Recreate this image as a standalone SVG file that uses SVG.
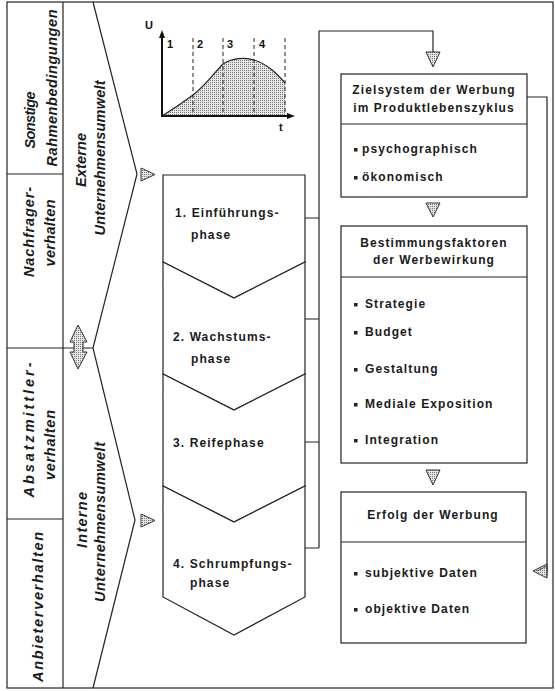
<svg xmlns="http://www.w3.org/2000/svg" width="555" height="691" viewBox="0 0 555 691">
<style>
.ln{fill:none;stroke:#222;stroke-width:1.2}
.bx{fill:#fff;stroke:#222;stroke-width:1.2}
.t{font-family:"Liberation Sans",Arial,sans-serif;font-weight:bold;font-size:12px;letter-spacing:1.1px;fill:#1a1a1a}
.c{text-anchor:middle}
.it{font-family:"Liberation Sans",Arial,sans-serif;font-weight:bold;font-style:italic;font-size:14.5px;fill:#1a1a1a;text-anchor:middle}
.ar{fill:url(#dots);stroke:#333;stroke-width:1}
.dash{fill:none;stroke:#222;stroke-width:1;stroke-dasharray:4 3}
.ax{fill:none;stroke:#111;stroke-width:2}
.s{font-family:"Liberation Sans",Arial,sans-serif;font-weight:bold;font-size:11px;fill:#111}
</style>
<defs>
<pattern id="dots" width="2" height="2" patternUnits="userSpaceOnUse">
<rect width="2" height="2" fill="#e6e6e6"/>
<rect width="1" height="1" fill="#777"/>
</pattern>
</defs>
<rect width="555" height="691" fill="#fff"/>

<g id="frame">
<rect x="7" y="2" width="546" height="686" class="ln"/>
<line x1="63" y1="2" x2="63" y2="688" class="ln"/>
<line x1="7" y1="174" x2="63" y2="174" class="ln"/>
<line x1="7" y1="348" x2="93" y2="348" class="ln"/>
<line x1="7" y1="519" x2="63" y2="519" class="ln"/>
</g>

<g id="sonstige">
<text class="it" transform="translate(35,120) rotate(-90)" textLength="57" lengthAdjust="spacing">Sonstige</text>
<text class="it" transform="translate(57,88) rotate(-90)" textLength="157" lengthAdjust="spacing">Rahmenbedingungen</text>
</g>
<g id="nachfrager">
<text class="it" transform="translate(34,232) rotate(-90)" textLength="90" lengthAdjust="spacing">Nachfrager-</text>
<text class="it" transform="translate(55,233) rotate(-90)" textLength="67" lengthAdjust="spacing">verhalten</text>
</g>
<g id="absatzmittler">
<text class="it" transform="translate(34,430) rotate(-90)" textLength="135" lengthAdjust="spacing">Absatzmittler-</text>
<text class="it" transform="translate(55,445) rotate(-90)" textLength="70" lengthAdjust="spacing">verhalten</text>
</g>
<g id="anbieter">
<text class="it" transform="translate(43,607) rotate(-90)" textLength="150" lengthAdjust="spacing">Anbieterverhalten</text>
</g>

<g id="umwelt">
<path d="M93,2 L137,174 L93,348 L135,520 L93,688" class="ln"/>
<text class="it" transform="translate(86,160) rotate(-90)" textLength="54" lengthAdjust="spacing">Externe</text>
<text class="it" transform="translate(105,158) rotate(-90)" textLength="155" lengthAdjust="spacing">Unternehmensumwelt</text>
<text class="it" transform="translate(87,520) rotate(-90)" textLength="56" lengthAdjust="spacing">Interne</text>
<text class="it" transform="translate(105,522) rotate(-90)" textLength="160" lengthAdjust="spacing">Unternehmensumwelt</text>
<path d="M78,325 L87,342 L83,342 L83,352 L87,352 L78,369 L70,352 L74,352 L74,342 L70,342 Z" class="ar"/>
</g>

<g id="chart">
<path d="M162,116 C175,108 185,101 193,95 C205,86 215,72 223,64 C232,58 245,57 254,60 C268,64 278,75 285,83 L285,116 Z" fill="url(#dots)" stroke="none"/>
<path d="M162,116 C175,108 185,101 193,95 C205,86 215,72 223,64 C232,58 245,57 254,60 C268,64 278,75 285,83" fill="none" stroke="#222" stroke-width="1.2"/>
<line x1="193" y1="38" x2="193" y2="116" class="dash"/>
<line x1="223" y1="38" x2="223" y2="116" class="dash"/>
<line x1="254" y1="38" x2="254" y2="116" class="dash"/>
<line x1="285" y1="38" x2="285" y2="116" class="dash"/>
<path d="M162,36 L162,116 L289,116" class="ax"/>
<path d="M162,30 L159,38 L165,38 Z" fill="#111"/>
<path d="M295,116 L287,113 L287,119 Z" fill="#111"/>
<text class="s" x="145" y="29">U</text>
<text class="s" x="279" y="131">t</text>
<text class="s" x="167" y="48">1</text>
<text class="s" x="197" y="48">2</text>
<text class="s" x="227" y="48">3</text>
<text class="s" x="259" y="48">4</text>
</g>

<g id="markers">
<path d="M141,168 L141,181 L155,174.5 Z" class="ar"/>
<path d="M141,514 L141,527 L155,520.5 Z" class="ar"/>
</g>

<g id="phase1">
<path d="M163,175 L305,175 L305,262 L234,298 L163,262 Z" class="bx"/>
<text class="t" x="175" y="217">1. Einführungs-</text>
<text class="t" x="191" y="239">phase</text>
</g>
<g id="phase2">
<path d="M163,262 L234,298 L305,262 L305,374 L234,410 L163,374 Z" class="bx"/>
<text class="t" x="173" y="341">2. Wachstums-</text>
<text class="t" x="191" y="363">phase</text>
</g>
<g id="phase3">
<path d="M163,374 L234,410 L305,374 L305,486 L234,522 L163,486 Z" class="bx"/>
<text class="t" x="173" y="447">3. Reifephase</text>
</g>
<g id="phase4">
<path d="M163,486 L234,522 L305,486 L305,597 L234,635 L163,597 Z" class="bx"/>
<text class="t" x="173" y="568">4. Schrumpfungs-</text>
<text class="t" x="190" y="587">phase</text>
</g>

<g id="connectors">
<path d="M319,548 L319,31 L433,31 L433,52" class="ln"/>
<path d="M305,218 H319 M305,319 H319 M305,442 H319 M305,548 H319" class="ln"/>
<path d="M426,52 L440,52 L433,67 Z" class="ar"/>
<path d="M426,203 L440,203 L433,217 Z" class="ar"/>
<path d="M426,470 L440,470 L433,485 Z" class="ar"/>
<path d="M527,97 L547,97 L547,571" class="ln"/>
<path d="M533,571 L547,564 L547,578 Z" class="ar"/>
<path d="M537,571 L547,566 L547,576" fill="none" stroke="#333" stroke-width="0.8"/>
</g>

<g id="zielsystem">
<rect x="341" y="74" width="186" height="123" class="bx"/>
<line x1="341" y1="124" x2="527" y2="124" class="ln"/>
<text class="t c" x="434" y="94">Zielsystem der Werbung</text>
<text class="t c" x="434" y="112">im Produktlebenszyklus</text>
<rect x="354" y="148" width="3.5" height="3.5" fill="#222"/>
<text class="t" x="362" y="153">psychographisch</text>
<rect x="354" y="176" width="3.5" height="3.5" fill="#222"/>
<text class="t" x="362" y="181">ökonomisch</text>
</g>

<g id="bestimmung">
<rect x="341" y="226" width="186" height="237" class="bx"/>
<line x1="341" y1="277" x2="527" y2="277" class="ln"/>
<text class="t c" x="434" y="247">Bestimmungsfaktoren</text>
<text class="t c" x="434" y="264">der Werbewirkung</text>
<rect x="354" y="303" width="3.5" height="3.5" fill="#222"/>
<text class="t" x="365" y="308">Strategie</text>
<rect x="354" y="331" width="3.5" height="3.5" fill="#222"/>
<text class="t" x="365" y="336">Budget</text>
<rect x="354" y="368" width="3.5" height="3.5" fill="#222"/>
<text class="t" x="365" y="373">Gestaltung</text>
<rect x="354" y="403" width="3.5" height="3.5" fill="#222"/>
<text class="t" x="365" y="408">Mediale Exposition</text>
<rect x="354" y="439" width="3.5" height="3.5" fill="#222"/>
<text class="t" x="365" y="444">Integration</text>
</g>

<g id="erfolg">
<rect x="341" y="492" width="185" height="151" class="bx"/>
<line x1="341" y1="542" x2="526" y2="542" class="ln"/>
<text class="t c" x="433" y="519">Erfolg der Werbung</text>
<rect x="354" y="572" width="3.5" height="3.5" fill="#222"/>
<text class="t" x="365" y="577">subjektive Daten</text>
<rect x="354" y="608" width="3.5" height="3.5" fill="#222"/>
<text class="t" x="365" y="613">objektive Daten</text>
</g>
</svg>
